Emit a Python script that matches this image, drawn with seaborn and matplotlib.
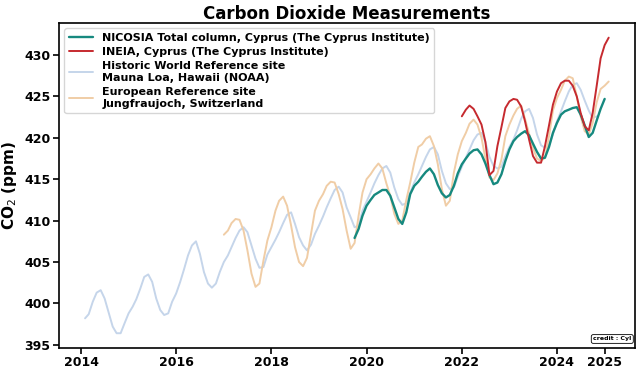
import matplotlib
matplotlib.use('Agg')
import matplotlib.pyplot as plt
import matplotlib.dates  as mdates
import numpy             as np
import pandas            as pd
import seaborn           as sns

# Monthly CO2 values (ppm)
# Mauna Loa (NOAA), Feb 2014 -> Nov 2024
mlo_start = '2014-02'
mlo_ppm = [
    398.2, 398.7, 400.2, 401.3, 401.6, 400.6, 398.9, 397.2, 396.4, 396.4, 397.6,          # 2014
    398.8, 399.6, 400.5, 401.8, 403.2, 403.5, 402.6, 400.6, 399.2, 398.6, 398.8, 400.2,   # 2015
    401.2, 402.6, 404.1, 405.8, 407.0, 407.5, 406.0, 403.8, 402.4, 401.9, 402.4, 403.8,   # 2016
    405.0, 405.8, 406.8, 407.9, 408.8, 409.2, 408.6, 407.0, 405.4, 404.3, 404.4, 405.9,   # 2017
    406.8, 407.7, 408.6, 409.7, 410.7, 411.0, 409.6, 408.0, 407.0, 406.4, 407.1, 408.4,   # 2018
    409.4, 410.5, 411.6, 412.7, 413.7, 414.1, 413.4, 411.6, 410.4, 409.2, 409.4, 411.2,   # 2019
    412.3, 413.4, 414.5, 415.5, 416.3, 416.6, 415.8, 414.0, 412.6, 411.9, 412.1, 413.4,   # 2020
    414.6, 415.6, 416.6, 417.7, 418.6, 418.9, 418.0, 416.0, 414.5, 413.8, 414.0, 415.3,   # 2021
    416.5, 417.6, 418.6, 419.7, 420.4, 420.6, 419.5, 417.7, 416.6, 416.3, 416.5, 417.8,   # 2022
    418.9, 419.8, 420.9, 422.3, 423.2, 423.5, 422.4, 420.4, 419.1, 418.8, 419.1, 420.4,   # 2023
    422.0, 423.2, 424.4, 425.6, 426.4, 426.6, 425.8, 424.5, 423.3, 422.4, 422.6,          # 2024
]

# Jungfraujoch, Jan 2017 -> Feb 2025
jfj_start = '2017-01'
jfj_ppm = [
    408.3, 408.8, 409.7, 410.2, 410.1, 408.8, 406.4, 403.6, 402.0, 402.4, 405.2, 407.6,   # 2017
    409.2, 411.2, 412.4, 412.9, 411.8, 409.4, 406.8, 405.0, 404.5, 405.5, 408.4, 411.2,   # 2018
    412.4, 413.2, 414.2, 414.7, 414.6, 413.2, 411.4, 408.8, 406.6, 407.3, 410.6, 413.4,   # 2019
    415.0, 415.6, 416.3, 416.9, 416.3, 414.5, 413.0, 410.8, 409.6, 410.0, 412.5, 414.6,   # 2020
    417.0, 418.9, 419.2, 419.9, 420.2, 419.0, 416.8, 413.8, 411.8, 412.4, 415.8, 418.0,   # 2021
    419.6, 420.6, 421.7, 422.2, 421.6, 420.0, 417.5, 415.2, 414.9, 415.7, 417.4, 420.2,   # 2022
    421.6, 422.7, 423.5, 423.9, 422.3, 420.5, 418.8, 417.5, 417.2, 417.6, 420.2, 423.3,   # 2023
    424.8, 425.8, 426.9, 427.4, 427.2, 425.0, 422.6, 420.8, 420.4, 421.8, 424.3, 425.9,   # 2024
    426.3, 426.8,                                                                         # 2025
]

# NICOSIA total column, Oct 2019 -> Jan 2025
nic_start = '2019-10'
nic_ppm = [
    407.9, 409.0, 410.6,                                                                  # 2019
    411.8, 412.5, 413.1, 413.4, 413.7, 413.7, 413.0, 411.6, 410.2, 409.6, 411.0, 413.2,   # 2020
    414.2, 414.7, 415.3, 415.9, 416.3, 415.6, 414.3, 413.3, 412.8, 413.1, 414.2, 415.7,   # 2021
    416.8, 417.5, 418.1, 418.5, 418.6, 418.0, 416.9, 415.5, 414.4, 414.6, 415.6, 417.2,   # 2022
    418.6, 419.6, 420.1, 420.5, 420.8, 420.3, 419.3, 418.3, 417.5, 417.6, 418.9, 420.6,   # 2023
    421.8, 422.8, 423.2, 423.4, 423.6, 423.7, 422.8, 421.5, 420.1, 420.6, 422.1, 423.5,   # 2024
    424.7,                                                                                # 2025
]

# INEIA, Jan 2022 -> Feb 2025
ine_start = '2022-01'
ine_ppm = [
    422.6, 423.4, 423.9, 423.5, 422.6, 421.6, 419.5, 415.5, 416.0, 419.0, 421.3, 423.6,   # 2022
    424.4, 424.7, 424.6, 423.8, 422.0, 419.8, 417.8, 417.0, 417.0, 419.0, 421.5, 424.0,   # 2023
    425.6, 426.6, 426.9, 426.9, 426.3, 425.0, 423.0, 421.4, 420.9, 423.0, 426.3, 429.6,   # 2024
    431.2, 432.1,                                                                         # 2025
]

labels = ['NICOSIA Total column, Cyprus (The Cyprus Institute)',
          'INEIA, Cyprus (The Cyprus Institute)',
          'Historic World Reference site\nMauna Loa, Hawaii (NOAA)',
          'European Reference site\nJungfraujoch, Switzerland']
colors = ['#16897f', '#c62a2f', '#c5d5ea', '#f0cda6']
year_ticks = [2014, 2016, 2018, 2020, 2022, 2024, 2025]


def monthly(start, values):
    return pd.DataFrame({'date': pd.date_range(start, periods=len(values), freq='MS'),
                         'ppm': values})


nic = monthly(nic_start, nic_ppm)
ine = monthly(ine_start, ine_ppm)
mlo = monthly(mlo_start, mlo_ppm)
jfj = monthly(jfj_start, jfj_ppm)

sns.set_style('ticks')
plt.rcParams['font.family'] = ['DejaVu Sans']
plt.rcParams.update({'text.color': 'black', 'axes.labelcolor': 'black',
                     'xtick.color': 'black', 'ytick.color': 'black'})

fig, ax = plt.subplots(figsize=(6.4, 3.75), dpi=100)
fig.subplots_adjust(left=0.092, right=0.992, top=0.939, bottom=0.072)

sns.lineplot(data=nic, x='date', y='ppm', color=colors[0], lw=1.7, label=labels[0], ax=ax)
sns.lineplot(data=ine, x='date', y='ppm', color=colors[1], lw=1.4, label=labels[1], ax=ax)
sns.lineplot(data=mlo, x='date', y='ppm', color=colors[2], lw=1.4, label=labels[2], ax=ax, zorder=1)
sns.lineplot(data=jfj, x='date', y='ppm', color=colors[3], lw=1.4, label=labels[3], ax=ax, zorder=1)

ax.set_xticks([pd.Timestamp(f'{y}-01-01') for y in year_ticks])
ax.xaxis.set_major_formatter(mdates.DateFormatter('%Y'))
ax.set_yticks([395, 400, 405, 410, 415, 420, 425, 430])
ax.tick_params(labelsize=9, length=4, width=1.2, pad=2, colors='black')
for t in ax.get_xticklabels() + ax.get_yticklabels():
    t.set_fontweight('bold')
for s in ax.spines.values():
    s.set_linewidth(1.2)
    s.set_color('black')

ax.set_xlabel('')
ax.set_ylabel('CO$_2$ (ppm)', fontsize=11, fontweight='bold', color='black')
ax.set_title('Carbon Dioxide Measurements', fontsize=12, fontweight='bold', pad=3, color='black')

leg = ax.legend(loc='upper left', prop={'weight': 'bold', 'size': 8},
                handlelength=2.2, labelspacing=0.38, borderpad=0.4)
for t in leg.get_texts():
    t.set_color('black')

ax.text(0.994, 0.02, 'credit : Cyl', transform=ax.transAxes, ha='right', va='bottom',
        fontsize=4.5, fontweight='bold', color='black',
        bbox=dict(boxstyle='round,pad=0.3', fc='white', ec='black', lw=0.6))

fig.savefig('out.png', dpi=100)
